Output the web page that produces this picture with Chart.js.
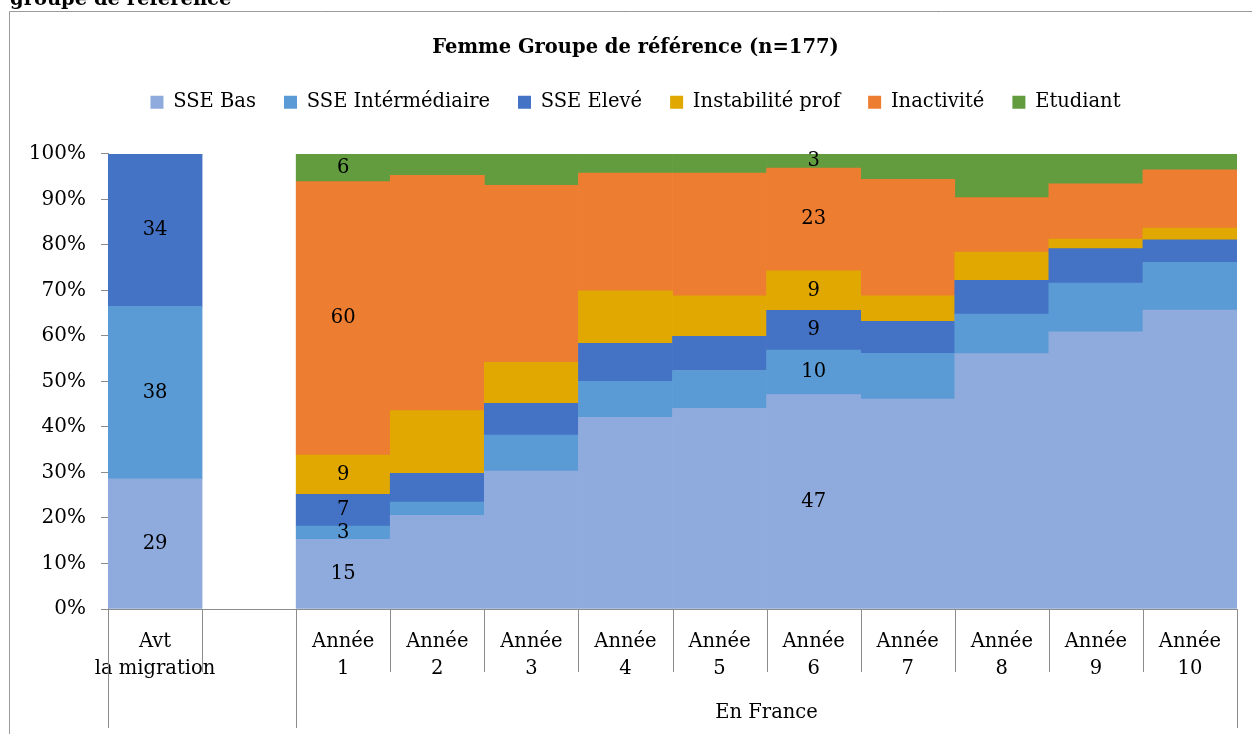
<!DOCTYPE html>
<html lang="fr">
<head>
<meta charset="utf-8">
<title>Femme Groupe de référence</title>
<script src="https://cdn.jsdelivr.net/npm/chart.js@4/dist/chart.umd.min.js"></script>
<style>
  html, body { margin: 0; padding: 0; background: #fff; }
  canvas { display: block; }
</style>
</head>
<body>
<canvas id="graphique" width="1252" height="734"></canvas>
<script>
// Catégories de l'axe X (une case vide sépare "avant" et "en France")
const categories = [
  ['Avt', 'la migration'], '',
  ['Année', '1'], ['Année', '2'], ['Année', '3'], ['Année', '4'], ['Année', '5'],
  ['Année', '6'], ['Année', '7'], ['Année', '8'], ['Année', '9'], ['Année', '10']
];

// Séries (%)
const sseBas      = [28.6, null, 15.3, 20.6, 30.3, 42.1, 44.1, 47.1, 46.1, 56.1, 60.9, 65.7];
const sseInter    = [37.9, null,  2.9,  2.9,  7.9,  7.9,  8.3,  9.8, 10.1,  8.7, 10.7, 10.5];
const sseEleve    = [33.5, null,  7.0,  6.3,  7.0,  8.4,  7.5,  8.7,  7.0,  7.4,  7.6,  4.9];
const instabilite = [0,    null,  8.6, 13.8,  9.0, 11.5,  8.9,  8.7,  5.6,  6.2,  2.1,  2.6];
const inactivite  = [0,    null, 60.1, 51.7, 38.9, 25.9, 27.0, 22.6, 25.6, 12.0, 12.1, 12.8];
const etudiant    = [0,    null,  6.1,  4.7,  6.9,  4.2,  4.2,  3.1,  5.6,  9.6,  6.6,  3.5];

// Colonnes qui portent des étiquettes de valeurs
const colonnesEtiquetees = [0, 2, 7];

// Groupes sous l'axe X
const groupesLabels = ['', 'En France'];
const groupesDebut = [0, 2];
const groupesFin = [1, 11];

const police = "'DejaVu Serif', serif";
const gris = '#8c8c8c';

const series = [
  { label: 'SSE Bas', data: sseBas, backgroundColor: '#8FAADC' },
  { label: 'SSE Intérmédiaire', data: sseInter, backgroundColor: '#5B9BD5' },
  { label: 'SSE Elevé', data: sseEleve, backgroundColor: '#4472C4' },
  { label: 'Instabilité prof', data: instabilite, backgroundColor: '#E0A800' },
  { label: 'Inactivité', data: inactivite, backgroundColor: '#ED7D31' },
  { label: 'Etudiant', data: etudiant, backgroundColor: '#629C3E' }
];

/**
 * Cadre gris, texte coupé en haut à gauche, réglage titre/légende
 */
const cadre = {
  id: 'cadre',
  beforeInit(chart) {
    // espace supplémentaire sous la légende
    const fitOrig = chart.legend.fit;
    chart.legend.fit = function () {
      fitOrig.call(this);
      this.height += 32;
    };
  },
  afterLayout(chart) {
    // le titre et la légende sont centrés un peu plus à droite
    [chart.titleBlock, chart.legend].forEach(b => {
      if (!b) return;
      b.left += 12;
      b.right += 12;
    });
  },
  beforeDraw(chart) {
    const ctx = chart.ctx;
    ctx.save();
    ctx.fillStyle = '#fff';
    ctx.fillRect(0, 0, chart.width, chart.height);
    ctx.strokeStyle = '#9a9a9a';
    ctx.lineWidth = 1;
    ctx.beginPath();
    ctx.moveTo(9.5, chart.height);
    ctx.lineTo(9.5, 11.5);
    ctx.lineTo(chart.width, 11.5);
    ctx.stroke();
    ctx.fillStyle = '#000';
    ctx.font = "bold 19.5px " + police;
    ctx.textBaseline = 'alphabetic';
    ctx.fillText('groupe de référence', 10, 5);
    ctx.restore();
  }
};

/**
 * Lignes de séparation sous l'axe X et libellés de groupes
 */
const lignesAxe = {
  id: 'lignesAxe',
  afterDraw(chart) {
    const { ctx, chartArea } = chart;
    const x = chart.scales.x;
    const demi = (x.getPixelForValue(1) - x.getPixelForValue(0)) / 2;
    const bas = chartArea.bottom;

    ctx.save();
    ctx.strokeStyle = gris;
    ctx.lineWidth = 1;
    ctx.beginPath();
    for (let i = 0; i <= categories.length; i++) {
      const px = Math.round(x.getPixelForValue(i) - demi) + 0.5;
      const long = groupesDebut.includes(i) || i === categories.length;
      ctx.moveTo(px, bas);
      ctx.lineTo(px, bas + (long ? 119 : 63));
    }
    ctx.stroke();

    ctx.fillStyle = '#000';
    ctx.font = "19.5px " + police;
    ctx.textAlign = 'center';
    ctx.textBaseline = 'middle';
    groupesLabels.forEach((txt, g) => {
      if (!txt) return;
      const g0 = x.getPixelForValue(groupesDebut[g]) - demi;
      const g1 = x.getPixelForValue(groupesFin[g]) + demi;
      ctx.fillText(txt, (g0 + g1) / 2, bas + 104);
    });
    ctx.restore();
  }
};

/**
 * Étiquettes de valeurs au centre des segments
 */
const etiquettes = {
  id: 'etiquettes',
  afterDatasetsDraw(chart) {
    const ctx = chart.ctx;
    ctx.save();
    ctx.fillStyle = '#000';
    ctx.font = "19.5px " + police;
    ctx.textAlign = 'center';
    ctx.textBaseline = 'middle';
    chart.data.datasets.forEach((ds, d) => {
      const meta = chart.getDatasetMeta(d);
      colonnesEtiquetees.forEach(i => {
        const v = ds.data[i];
        if (!v) return;
        const el = meta.data[i];
        ctx.fillText(Math.round(v), el.x, (el.y + el.base) / 2);
      });
    });
    ctx.restore();
  }
};

new Chart(document.getElementById('graphique'), {
  type: 'bar',
  data: {
    labels: categories,
    datasets: series.map(s => ({
      ...s,
      borderWidth: 0,
      categoryPercentage: 1,
      barPercentage: 1
    }))
  },
  options: {
    responsive: false,
    animation: false,
    devicePixelRatio: 1,
    layout: { padding: { left: 10, right: 15, top: 12, bottom: 0 } },
    plugins: {
      title: {
        display: true,
        text: 'Femme Groupe de référence (n=177)',
        color: '#000',
        font: { family: police, size: 19.5, weight: 'bold' },
        padding: { top: 24, bottom: 5 }
      },
      legend: {
        display: true,
        position: 'top',
        labels: {
          color: '#000',
          boxWidth: 13,
          boxHeight: 13,
          padding: 28,
          font: { family: police, size: 19.5 }
        }
      },
      tooltip: { enabled: false }
    },
    scales: {
      x: {
        stacked: true,
        grid: { display: false, drawTicks: false },
        border: { display: true, color: gris },
        ticks: {
          color: '#000',
          autoSkip: false,
          maxRotation: 0,
          padding: 19,
          font: { family: police, size: 19.5, lineHeight: 1.4 }
        },
        afterFit: s => { s.height = 125; }
      },
      y: {
        stacked: true,
        min: 0,
        max: 100,
        grid: { drawOnChartArea: false, drawTicks: true, tickLength: 7, color: gris },
        border: { color: gris },
        ticks: {
          stepSize: 10,
          color: '#000',
          padding: 15,
          callback: v => v + '%',
          font: { family: police, size: 20 }
        },
        afterFit: s => { s.width = 98; }
      }
    }
  },
  plugins: [cadre, lignesAxe, etiquettes]
});
</script>
</body>
</html>
